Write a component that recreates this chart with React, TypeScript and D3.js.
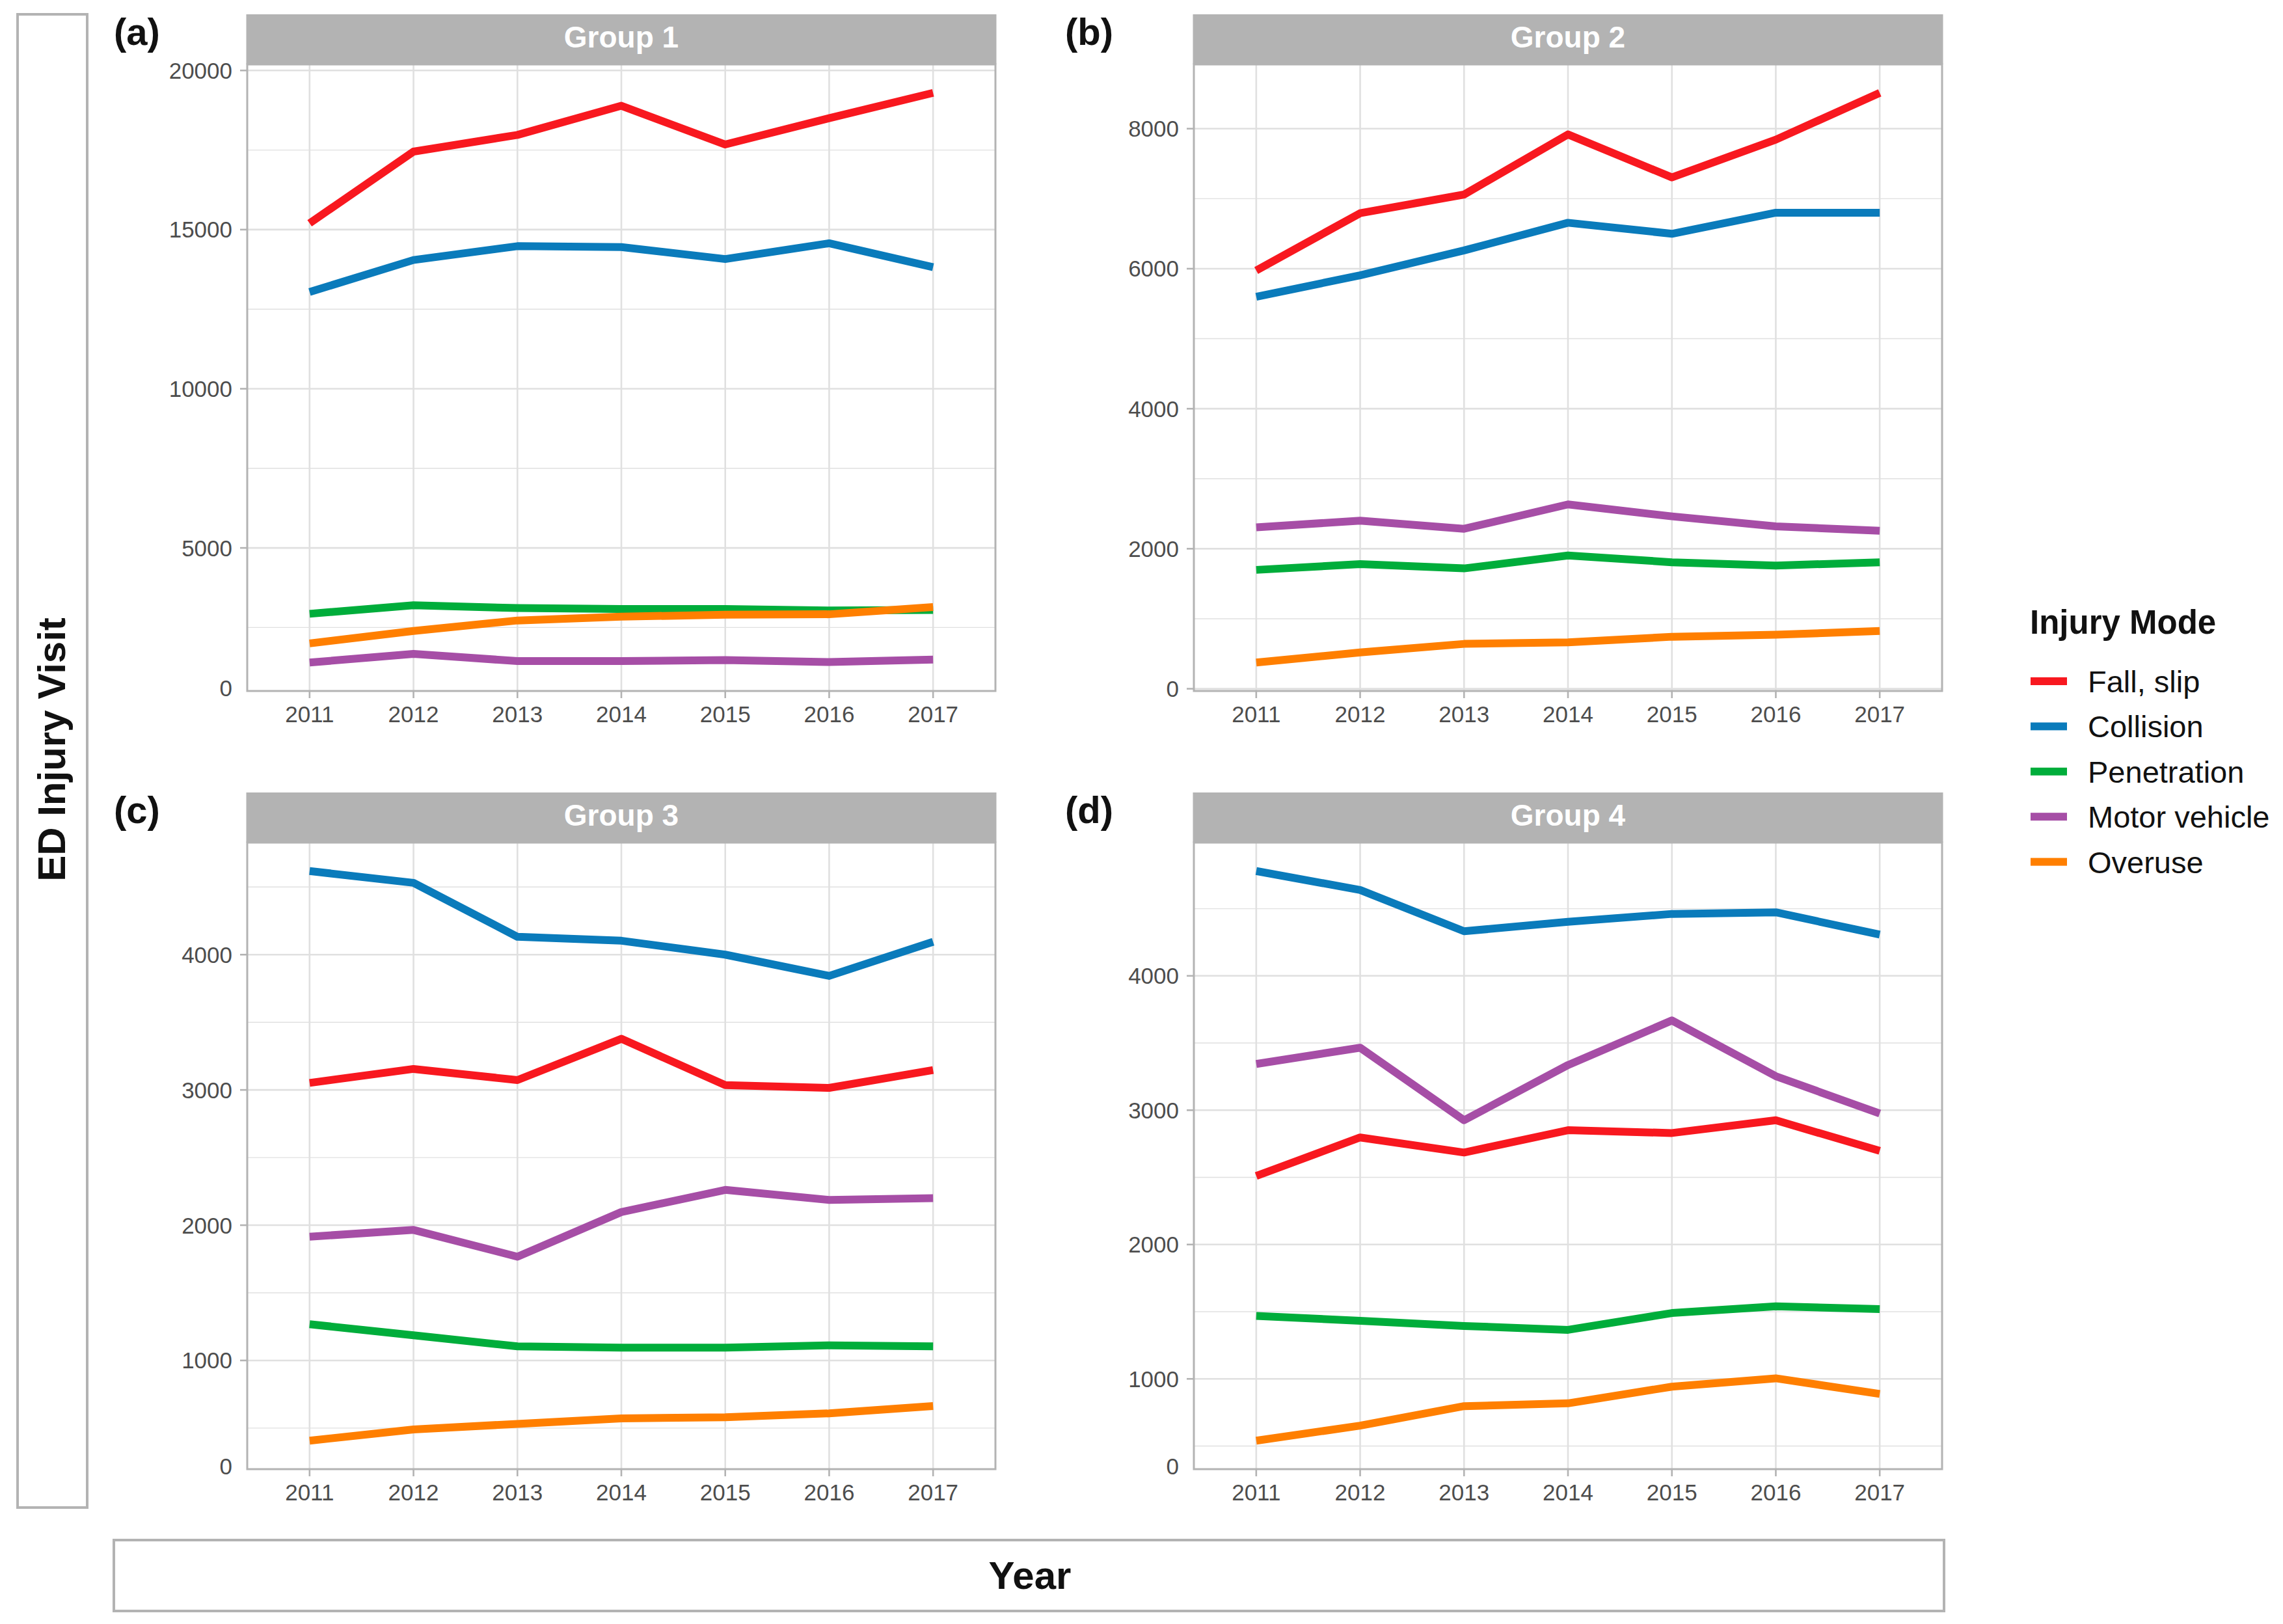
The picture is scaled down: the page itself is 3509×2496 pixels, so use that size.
import { useEffect, useRef } from "react";
import * as d3 from "d3";

// ── Data ──────────────────────────────────────────────────────────────────
const YEARS = [2011, 2012, 2013, 2014, 2015, 2016, 2017];
const MODES = ["Fall, slip", "Collision", "Penetration", "Motor vehicle", "Overuse"];
const MODE_COLORS = ["#F8181F", "#0A7BBB", "#00AD3B", "#A64EA6", "#FF7F00"];
const GROUP_NAMES = ["Group 1", "Group 2", "Group 3", "Group 4"];
const PANEL_TAGS = ["(a)", "(b)", "(c)", "(d)"];

// one row per mode, in MODES order
const GROUP1 = [
  [15200, 17450, 17975, 18890, 17675, 18500, 19295],
  [13040, 14045, 14480, 14450, 14075, 14570, 13820],
  [2930, 3200, 3110, 3080, 3080, 3035, 3050],
  [1400, 1670, 1445, 1445, 1475, 1415, 1490],
  [2000, 2390, 2720, 2840, 2900, 2915, 3140],
];
const GROUP2 = [
  [5974, 6793, 7059, 7918, 7304, 7843, 8511],
  [5599, 5906, 6261, 6656, 6499, 6800, 6800],
  [1698, 1780, 1719, 1903, 1807, 1760, 1807],
  [2305, 2401, 2285, 2633, 2462, 2319, 2257],
  [375, 518, 641, 662, 743, 771, 825],
];
const GROUP3 = [
  [3052, 3155, 3073, 3378, 3036, 3015, 3147],
  [4618, 4531, 4132, 4103, 4000, 3843, 4095],
  [1268, 1186, 1104, 1095, 1095, 1112, 1104],
  [1915, 1965, 1767, 2097, 2261, 2187, 2200],
  [407, 490, 531, 572, 580, 609, 663],
];
const GROUP4 = [
  [2510, 2797, 2685, 2851, 2830, 2925, 2697],
  [4780, 4639, 4332, 4402, 4461, 4473, 4307],
  [1469, 1432, 1394, 1365, 1490, 1540, 1519],
  [3344, 3465, 2925, 3336, 3668, 3253, 2975],
  [540, 652, 797, 818, 942, 1004, 888],
];
const GROUPS = [GROUP1, GROUP2, GROUP3, GROUP4];

// y-axis breaks as printed on each panel ("0" is printed even when below the panel)
const Y_BREAKS = [
  [0, 5000, 10000, 15000, 20000],
  [0, 2000, 4000, 6000, 8000],
  [0, 1000, 2000, 3000, 4000],
  [0, 1000, 2000, 3000, 4000],
];

// ── Layout ────────────────────────────────────────────────────────────────
const W = 3509;
const H = 2496;
const COL_X = [380, 1835];
const ROW_Y = [22, 1218];
const PANEL_W = 1150;
const STRIP_H = 77;
const PLOT_H = 963;

const GREY70 = "#B3B3B3";
const GRID = "#E0E0E0";
const TICK_TXT = "#4D4D4D";
const SANS = "'Liberation Sans', Arial, Helvetica, sans-serif";

export default function App() {
  const svgRef = useRef<SVGSVGElement>(null);

  useEffect(() => {
    if (!svgRef.current) return;
    const svg = d3.select(svgRef.current);
    svg.selectAll("*").remove();

    svg.append("rect").attr("width", W).attr("height", H).attr("fill", "#fff");

    GROUPS.forEach((series, gi) => {
      const col = gi % 2;
      const row = Math.floor(gi / 2);
      const x0 = COL_X[col];
      const top = ROW_Y[row];
      const py0 = top + STRIP_H;
      const py1 = py0 + PLOT_H;

      const xScale = d3.scalePoint<number>()
        .domain(YEARS)
        .range([x0, x0 + PANEL_W])
        .padding(0.6);

      // ggplot default: 5% expansion of data range
      const all = series.flat();
      const [mn, mx] = d3.extent(all) as [number, number];
      const pad = (mx - mn) * 0.05;
      const yScale = d3.scaleLinear().domain([mn - pad, mx + pad]).range([py1, py0]);
      const [dLo, dHi] = yScale.domain();

      const g = svg.append("g");

      // ── Minor grid ──────────────────────────────
      const br = Y_BREAKS[gi];
      const step = br[1] - br[0];
      const minor: number[] = [];
      for (let v = br[0] - step / 2; v <= br[br.length - 1] + step / 2; v += step) minor.push(v);
      g.selectAll(".minor")
        .data(minor.filter((v) => v > dLo && v < dHi))
        .join("line")
        .attr("x1", x0).attr("x2", x0 + PANEL_W)
        .attr("y1", (d) => yScale(d)).attr("y2", (d) => yScale(d))
        .attr("stroke", GRID).attr("stroke-width", 1.4);

      // ── Major grid ──────────────────────────────
      const inRange = br.filter((v) => v >= dLo && v <= dHi);
      g.selectAll(".majorY")
        .data(inRange)
        .join("line")
        .attr("x1", x0).attr("x2", x0 + PANEL_W)
        .attr("y1", (d) => yScale(d)).attr("y2", (d) => yScale(d))
        .attr("stroke", GRID).attr("stroke-width", 2.6);
      g.selectAll(".majorX")
        .data(YEARS)
        .join("line")
        .attr("x1", (d) => xScale(d)!).attr("x2", (d) => xScale(d)!)
        .attr("y1", py0).attr("y2", py1)
        .attr("stroke", GRID).attr("stroke-width", 2.6);

      // ── Lines ──────────────────────────────────
      const line = d3.line<number>()
        .x((_, i) => xScale(YEARS[i])!)
        .y((d) => yScale(d));
      series.forEach((vals, mi) => {
        g.append("path")
          .attr("d", line(vals))
          .attr("fill", "none")
          .attr("stroke", MODE_COLORS[mi])
          .attr("stroke-width", 12)
          .attr("stroke-linejoin", "round");
      });

      // ── Panel border ────────────────────────────
      g.append("rect")
        .attr("x", x0).attr("y", py0)
        .attr("width", PANEL_W).attr("height", PLOT_H)
        .attr("fill", "none").attr("stroke", GREY70).attr("stroke-width", 3);

      // ── Strip ──────────────────────────────────
      g.append("rect")
        .attr("x", x0 - 1.5).attr("y", top)
        .attr("width", PANEL_W + 3).attr("height", STRIP_H)
        .attr("fill", GREY70);
      g.append("text")
        .attr("x", x0 + PANEL_W / 2)
        .attr("y", top + STRIP_H / 2 + 12)
        .attr("text-anchor", "middle")
        .attr("font-family", SANS)
        .attr("font-weight", "bold")
        .attr("font-size", 46)
        .attr("fill", "#fff")
        .text(GROUP_NAMES[gi]);

      // ── Y axis ticks + labels ───────────────────
      g.selectAll(".ytick")
        .data(inRange)
        .join("line")
        .attr("x1", x0 - 11).attr("x2", x0)
        .attr("y1", (d) => yScale(d)).attr("y2", (d) => yScale(d))
        .attr("stroke", GREY70).attr("stroke-width", 2.6);
      g.selectAll(".ylab")
        .data(br)
        .join("text")
        .attr("x", x0 - 23)
        .attr("y", (d) => (d < dLo ? py1 - 5 : yScale(d)) + 12.5)
        .attr("text-anchor", "end")
        .attr("font-family", SANS)
        .attr("font-size", 35)
        .attr("fill", TICK_TXT)
        .text((d) => String(d));

      // ── X axis ticks + labels ───────────────────
      g.selectAll(".xtick")
        .data(YEARS)
        .join("line")
        .attr("x1", (d) => xScale(d)!).attr("x2", (d) => xScale(d)!)
        .attr("y1", py1).attr("y2", py1 + 11)
        .attr("stroke", GREY70).attr("stroke-width", 2.6);
      g.selectAll(".xlab")
        .data(YEARS)
        .join("text")
        .attr("x", (d) => xScale(d)!)
        .attr("y", py1 + 48)
        .attr("text-anchor", "middle")
        .attr("font-family", SANS)
        .attr("font-size", 35)
        .attr("fill", TICK_TXT)
        .text((d) => String(d));

      // ── Panel tag ───────────────────────────────
      svg.append("text")
        .attr("x", col === 0 ? 175 : 1637)
        .attr("y", top + 47)
        .attr("font-family", SANS)
        .attr("font-weight", "bold")
        .attr("font-size", 58)
        .attr("fill", "#111")
        .text(PANEL_TAGS[gi]);
    });

    // ── Axis title boxes ───────────────────────────
    svg.append("rect")
      .attr("x", 27).attr("y", 22).attr("width", 107).attr("height", 2295)
      .attr("fill", "none").attr("stroke", GREY70).attr("stroke-width", 4);
    svg.append("text")
      .attr("transform", "translate(100,1152) rotate(-90)")
      .attr("text-anchor", "middle")
      .attr("font-family", SANS)
      .attr("font-weight", "bold")
      .attr("font-size", 60)
      .attr("fill", "#111")
      .text("ED Injury Visit");

    svg.append("rect")
      .attr("x", 175).attr("y", 2367).attr("width", 2813).attr("height", 109)
      .attr("fill", "none").attr("stroke", GREY70).attr("stroke-width", 4);
    svg.append("text")
      .attr("x", 1583).attr("y", 2442)
      .attr("text-anchor", "middle")
      .attr("font-family", SANS)
      .attr("font-weight", "bold")
      .attr("font-size", 60)
      .attr("fill", "#111")
      .text("Year");

    // ── Legend ─────────────────────────────────────
    const lg = svg.append("g").attr("transform", "translate(3120,0)");
    lg.append("text")
      .attr("x", 0).attr("y", 974)
      .attr("font-family", SANS)
      .attr("font-weight", "bold")
      .attr("font-size", 51)
      .attr("fill", "#111")
      .text("Injury Mode");
    MODES.forEach((m, i) => {
      const cy = 1047 + i * 69.4;
      lg.append("rect")
        .attr("x", 1).attr("y", cy - 6)
        .attr("width", 56).attr("height", 12)
        .attr("fill", MODE_COLORS[i]);
      lg.append("text")
        .attr("x", 89).attr("y", cy + 17)
        .attr("font-family", SANS)
        .attr("font-size", 47)
        .attr("fill", "#111")
        .text(m);
    });
  }, []);

  return (
    <>
      <style>{`body{margin:0}`}</style>
      <svg ref={svgRef} width={W} height={H} style={{ display: "block" }} />
    </>
  );
}
